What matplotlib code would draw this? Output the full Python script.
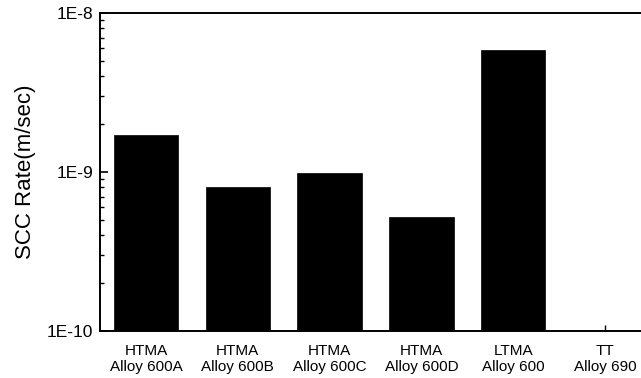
import numpy as np
import matplotlib
matplotlib.use("Agg")
import matplotlib.pyplot as plt
from matplotlib.ticker import FixedLocator, FuncFormatter, LogLocator, NullFormatter

plt.rcParams['font.family'] = ['Liberation Sans', 'DejaVu Sans']

# Data (TT Alloy 690 has no bar)
treatments = ["HTMA", "HTMA", "HTMA", "HTMA", "LTMA", "TT"]
alloys = ["Alloy 600A", "Alloy 600B", "Alloy 600C", "Alloy 600D", "Alloy 600", "Alloy 690"]
scc_rate = [1.70e-9, 8.1e-10, 9.9e-10, 5.25e-10, 5.88e-9, np.nan]

labels = [f"{t}\n{a}" for t, a in zip(treatments, alloys)]
x = np.arange(len(labels))

fig = plt.figure(figsize=(6.41, 3.78), dpi=100)
ax = fig.add_axes([0.156, 0.124, 0.844, 0.842])

has_bar = [not np.isnan(v) for v in scc_rate]
ax.bar(x[has_bar], np.array(scc_rate)[has_bar], width=0.70,
       color="black", edgecolor="black", linewidth=0.5)

ax.set_yscale("log")
ax.set_ylim(1e-10, 1e-8)
ax.set_xlim(-0.5, 5.39)

ax.yaxis.set_major_locator(FixedLocator([1e-10, 1e-9, 1e-8]))
ax.yaxis.set_major_formatter(FuncFormatter(lambda v, p: "1E%d" % round(np.log10(v))))
ax.yaxis.set_minor_locator(LogLocator(base=10, subs=np.arange(2, 10)))
ax.yaxis.set_minor_formatter(NullFormatter())

ax.set_xticks(x)
ax.set_xticklabels(labels, fontsize=11, linespacing=1.25)

ax.tick_params(axis="y", which="major", direction="in", length=6, width=1.2,
               labelsize=12.5, pad=5)
ax.tick_params(axis="y", which="minor", direction="in", length=3, width=1)
ax.tick_params(axis="x", which="major", direction="in", length=4, width=1, pad=9)

ax.spines["right"].set_visible(False)
for side in ["left", "bottom", "top"]:
    ax.spines[side].set_linewidth(1.4)

ax.set_ylabel("SCC Rate(m/sec)", fontsize=16, labelpad=8)

fig.savefig("out.png", dpi=100)
